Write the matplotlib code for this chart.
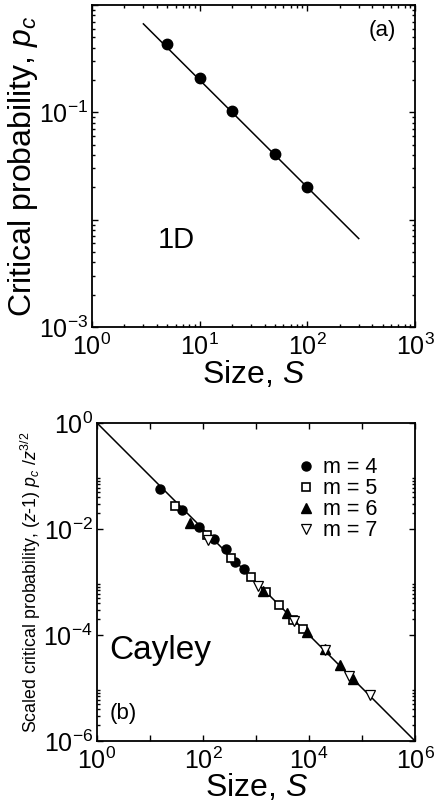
import matplotlib
matplotlib.use('Agg')
import matplotlib.pyplot as plt
from matplotlib.ticker import LogLocator, NullFormatter, FixedLocator

plt.rcParams['font.family'] = ['Liberation Sans', 'DejaVu Sans']
plt.rcParams['mathtext.fontset'] = 'custom'
plt.rcParams['mathtext.rm'] = 'Liberation Sans'
plt.rcParams['mathtext.it'] = 'Liberation Sans:italic'
plt.rcParams['mathtext.default'] = 'it'

# panel (a): 1D
size_1d = [5, 10, 20, 50, 100]
pc_1d = [0.43, 0.208, 0.102, 0.0405, 0.0203]
fit_1d_x = [3, 300]
fit_1d_y = [0.667, 0.00667]

# panel (b): Cayley, scaled critical probability
s_m4 = [15.2, 40, 85, 158, 266, 405, 606]
p_m4 = [0.0565, 0.023, 0.011, 0.0064, 0.00415, 0.00243, 0.00174]
s_m5 = [29.9, 118, 335, 798, 1552, 2770, 5080, 7620]
p_m5 = [0.0266, 0.00786, 0.0028, 0.00126, 0.000649, 0.000363, 0.000192, 0.000131]
s_m6 = [57.4, 1343, 3805, 9330, 20090, 38500, 66700]
p_m6 = [0.01325, 0.000687, 0.000256, 0.000112, 5.35e-5, 2.7e-5, 1.51e-5]
s_m7 = [122, 1113, 5230, 20090, 57700, 141500]
p_m7 = [0.00623, 0.00084, 0.000186, 5.19e-5, 1.67e-5, 7.3e-6]
fit_b_x = [1, 1e6]
fit_b_y = [1, 1e-6]

fig = plt.figure(figsize=(4.39, 8.08), dpi=100)

def style_axis(ax):
    for sp in ax.spines.values():
        sp.set_linewidth(1.3)
    ax.tick_params(which='both', direction='in', top=True, right=True, width=1.0)
    ax.tick_params(which='major', length=4, labelsize=18, pad=3)
    ax.tick_params(axis='x', which='major', pad=5)
    ax.tick_params(which='minor', length=2.3)

def pow10(e):
    return '$\\mathrm{10^{%d}}$' % e

# ---- panel (a)
ax1 = fig.add_axes([0.2096, 0.5953, 0.7358, 0.3985])
ax1.set_xscale('log')
ax1.set_yscale('log')
ax1.set_xlim(1, 1e3)
ax1.set_ylim(1e-3, 1)
ax1.plot(fit_1d_x, fit_1d_y, color='black', lw=1.1)
ax1.plot(size_1d, pc_1d, 'o', color='black', ms=7.5)
ax1.set_xticks([1, 10, 100, 1000])
ax1.set_xticklabels([pow10(e) for e in (0, 1, 2, 3)])
ax1.set_yticks([1e-3, 1e-2, 1e-1, 1])
ax1.set_yticklabels([pow10(-3), '', pow10(-1), ''])
ax1.xaxis.set_minor_locator(LogLocator(base=10, subs=range(2, 10)))
ax1.yaxis.set_minor_locator(LogLocator(base=10, subs=range(2, 10)))
ax1.xaxis.set_minor_formatter(NullFormatter())
ax1.yaxis.set_minor_formatter(NullFormatter())
style_axis(ax1)
ax1.set_xlabel('Size, $S$', fontsize=23, labelpad=-1)
ax1.set_ylabel('Critical probability, $p_c$', fontsize=23, labelpad=-1)
ax1.text(0.90, 0.92, '(a)', transform=ax1.transAxes, fontsize=16, ha='center', va='center')
ax1.text(0.26, 0.27, '1D', transform=ax1.transAxes, fontsize=21, ha='center', va='center')

# ---- panel (b)
ax2 = fig.add_axes([0.221, 0.0829, 0.7244, 0.3936])
ax2.set_xscale('log')
ax2.set_yscale('log')
ax2.set_xlim(1, 1e6)
ax2.set_ylim(1e-6, 1)
ax2.plot(fit_b_x, fit_b_y, color='black', lw=1.1)
ax2.plot(s_m4, p_m4, 'o', color='black', ms=6.5, label='m = 4')
ax2.plot(s_m5, p_m5, 's', mfc='white', mec='black', mew=1.2, ms=5.5, label='m = 5')
ax2.plot(s_m6, p_m6, '^', color='black', ms=6.5, label='m = 6')
ax2.plot(s_m7, p_m7, 'v', mfc='white', mec='black', mew=0.9, ms=6.5, label='m = 7')
ax2.set_xticks([10.0 ** e for e in range(0, 7)])
ax2.set_xticklabels([pow10(e) if e % 2 == 0 else '' for e in range(0, 7)])
ax2.set_yticks([1e-6, 1e-4, 1e-2, 1])
ax2.set_yticklabels([pow10(-6), pow10(-4), pow10(-2), pow10(0)])
ax2.xaxis.set_minor_locator(LogLocator(base=10, subs=range(2, 10)))
ax2.yaxis.set_minor_locator(FixedLocator([k * 10.0 ** e for e in (-2, -4, -6) for k in range(2, 10)]))
ax2.xaxis.set_minor_formatter(NullFormatter())
ax2.yaxis.set_minor_formatter(NullFormatter())
style_axis(ax2)
ax2.set_xlabel('Size, $S$', fontsize=23, labelpad=-2)
ax2.set_ylabel('Scaled critical probability, $\\mathit{(z}$-$\\mathit{1)}\\ p_c\\ /z^{3/2}$',
               fontsize=12.8, labelpad=0)
ax2.text(0.20, 0.286, 'Cayley', transform=ax2.transAxes, fontsize=24, ha='center', va='center')
ax2.text(0.083, 0.088, '(b)', transform=ax2.transAxes, fontsize=16, ha='center', va='center')
ax2.legend(loc='upper left', bbox_to_anchor=(0.59, 0.94), frameon=False, fontsize=15.5,
           handlelength=0.6, handletextpad=0.5, labelspacing=0.0, borderpad=0.2)

fig.savefig('out.png', dpi=100)
